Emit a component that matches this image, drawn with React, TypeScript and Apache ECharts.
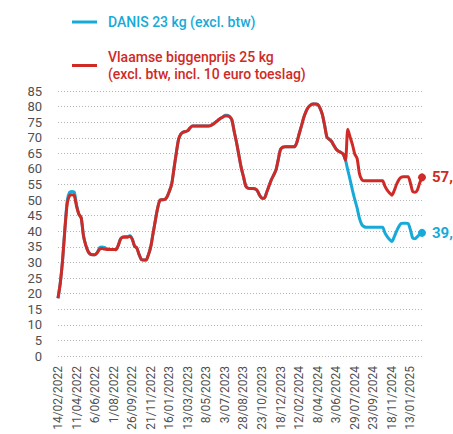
import React, { useEffect, useRef } from "react";
import * as echarts from "echarts";

const BLUE = "#17aad8";
const RED = "#d02a26";
const AXIS_TEXT = "#505050";

const DANIS_NAME = "DANIS 23 kg (excl. btw)";
const VLAAMS_NAME = "Vlaamse biggenprijs 25 kg\n(excl. btw, incl. 10 euro toeslag)";

// weekly quotations from 14/02/2022
const START_DATE = [2022, 2, 14];
const WEEKS = 158;

const vlaamsPrice = [
  18.5, 23.5, 31, 41, 49, 51.5, 51.7, 51.5, 48, 45.5,
  44.3, 38.5, 35.5, 33.5, 32.6, 32.5, 32.5, 33.2, 34.3, 34.5,
  34.3, 34.2, 34.2, 34.2, 34.2, 34.1, 35.5, 37.5, 38.1, 38.1,
  38.1, 38.4, 37.5, 35.3, 34.6, 32.5, 30.9, 30.8, 30.8, 32.5,
  35, 39.3, 43.5, 47.5, 50, 50.1, 50.2, 51, 52.8, 55,
  60, 65, 69.5, 71.2, 71.8, 72, 72.3, 73.2, 73.8, 73.8,
  73.8, 73.8, 73.8, 73.8, 73.8, 73.8, 74, 74.4, 75, 75.6,
  76.2, 76.6, 77, 77, 76.8, 75.7, 72, 68.5, 64.5, 60.5,
  57.5, 54.5, 53.8, 53.7, 53.7, 53.6, 53, 51.5, 50.6, 50.6,
  52.5, 54.5, 56.5, 58, 59.6, 63, 66.3, 67, 67.1, 67.1,
  67.1, 67.1, 67.1, 68.5, 71.2, 73.8, 76.5, 78.5, 79.8, 80.5,
  80.8, 80.8, 80.7, 79.5, 77.5, 74, 70.2, 69.5, 68.8, 67.5,
  66.3, 65.7, 65.3, 64.8, 62.8, 72.7, 70.2, 67.8, 64.8, 63.4,
  58.6, 56.6, 56.2, 56.2, 56.2, 56.2, 56.2, 56.2, 56.2, 56.2,
  56.2, 54.5, 53.2, 52.3, 51.6, 53, 55, 56.5, 57.3, 57.5,
  57.5, 57.5, 55.5, 52.7, 52.5, 53.2, 55.5, 57.3,
];

const danisPrice = [
  18.5, 23.5, 31, 41, 50, 52.5, 52.8, 52.6, 48.5, 45.5,
  44.3, 38.5, 35.5, 33.5, 32.6, 32.5, 32.5, 33.3, 34.8, 35,
  34.8, 34.4, 34.3, 34.2, 34.2, 34.1, 35.5, 37.6, 38.2, 38.3,
  38.3, 38.6, 37.6, 35.3, 34.6, 32.5, 30.9, 30.8, 30.8, 32.5,
  35, 39.3, 43.5, 47.5, 50, 50.1, 50.2, 51, 52.8, 55,
  60, 65, 69.5, 71.2, 71.8, 72, 72.3, 73.2, 73.8, 73.8,
  73.8, 73.8, 73.8, 73.8, 73.8, 73.8, 74, 74.4, 75, 75.6,
  76.2, 76.6, 77.2, 77.2, 76.8, 75.7, 72, 68.5, 64.5, 60.5,
  57.5, 54.5, 53.8, 53.7, 53.7, 53.6, 53, 51.5, 50.6, 50.6,
  52.5, 54.5, 56.5, 58, 59.6, 63, 66.3, 67, 67.1, 67.1,
  67.1, 67.1, 67.1, 68.5, 71.2, 73.8, 76.5, 78.5, 79.8, 80.5,
  80.8, 80.8, 80.7, 79.5, 77.5, 74, 70.2, 69.5, 68.8, 67.5,
  66.3, 65.7, 65.3, 64.8, 62.8, 59.6, 56.5, 53.2, 50.2, 47.5,
  44.2, 42.2, 41.5, 41.3, 41.3, 41.3, 41.3, 41.3, 41.3, 41.3,
  41.3, 39.5, 38.3, 37.4, 36.7, 38.2, 40, 41.5, 42.5, 42.6,
  42.6, 42.5, 40.5, 37.8, 37.6, 38.3, 39, 39.5,
];

const Y_MIN = 0;
const Y_MAX = 85;
const Y_STEP = 5;
const LABEL_EVERY = 8;

function buildWeeks(): string[] {
  const out: string[] = [];
  const t0 = Date.UTC(START_DATE[0], START_DATE[1] - 1, START_DATE[2]);
  for (let i = 0; i < WEEKS; i++) {
    const d = new Date(t0 + i * 7 * 86400000);
    const dd = d.getUTCDate();
    const mm = String(d.getUTCMonth() + 1).padStart(2, "0");
    out.push(`${dd}/${mm}/${d.getUTCFullYear()}`);
  }
  return out;
}

export default function App() {
  const ref = useRef<HTMLDivElement>(null);

  useEffect(() => {
    if (!ref.current) return;
    const chart = echarts.init(ref.current, undefined, { renderer: "svg" });
    const weeks = buildWeeks();
    const last = weeks.length - 1;
    const font = "Roboto, 'Noto Sans', sans-serif";

    const mkSeries = (name: string, data: number[], color: string, z: number) => ({
      name,
      type: "line",
      data,
      z,
      smooth: 0.25,
      showSymbol: false,
      symbol: "none",
      lineStyle: { color, width: 3 },
      itemStyle: { color },
      endLabel: {
        show: true,
        formatter: (p: any) => `${Math.floor(p.value)},`,
        color,
        fontWeight: "bold",
        fontSize: 15,
        fontFamily: font,
        distance: 10,
      },
      markPoint: {
        symbol: "circle",
        symbolSize: 8,
        itemStyle: { color },
        label: { show: false },
        data: [{ coord: [weeks[last], data[last]] }],
      },
    });

    chart.setOption({
      animation: false,
      textStyle: { fontFamily: font },
      grid: { left: 58, right: 31, top: 91, bottom: 78 },
      legend: [
        {
          left: 72,
          top: 15,
          padding: 0,
          icon: "rect",
          itemWidth: 25,
          itemHeight: 3,
          data: [{ name: DANIS_NAME, textStyle: { color: BLUE } }],
          textStyle: { fontSize: 14, fontWeight: 500, fontFamily: font, padding: [0, 0, 0, 6] },
        },
        {
          left: 72,
          top: 40,
          padding: 0,
          icon: "rect",
          itemWidth: 25,
          itemHeight: 3,
          data: [{ name: VLAAMS_NAME, textStyle: { color: RED } }],
          textStyle: {
            fontSize: 14,
            fontWeight: 500,
            fontFamily: font,
            lineHeight: 17,
            padding: [17, 0, 0, 6],
          },
        },
      ],
      xAxis: {
        type: "category",
        data: weeks,
        boundaryGap: false,
        axisLine: { show: false },
        axisTick: { show: false },
        axisLabel: {
          interval: LABEL_EVERY - 1,
          rotate: 90,
          margin: 10,
          color: AXIS_TEXT,
          fontSize: 12,
          fontFamily: font,
        },
        splitLine: { show: false },
      },
      yAxis: {
        type: "value",
        min: Y_MIN,
        max: Y_MAX,
        interval: Y_STEP,
        axisLine: { show: false },
        axisTick: { show: false },
        axisLabel: { color: AXIS_TEXT, fontSize: 13, margin: 16, fontFamily: font },
        splitLine: { lineStyle: { color: "#b5b5b5", type: [1, 2], width: 1 } },
      },
      series: [
        mkSeries(DANIS_NAME, danisPrice, BLUE, 2),
        mkSeries(VLAAMS_NAME, vlaamsPrice, RED, 3),
      ],
    });

    return () => chart.dispose();
  }, []);

  return (
    <div
      ref={ref}
      style={{ width: 453, height: 434, position: "absolute", left: 0, top: 0 }}
    />
  );
}
